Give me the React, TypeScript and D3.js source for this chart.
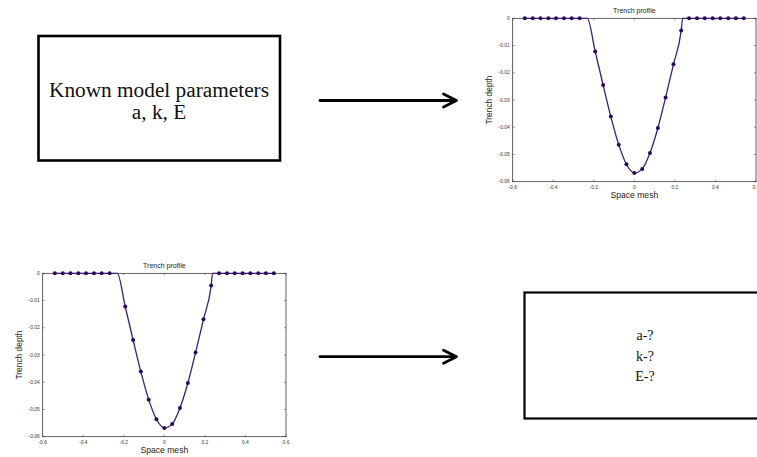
import React from "react";
import * as d3 from "d3";

const meshX = [
  -0.540, -0.501, -0.463, -0.424, -0.386, -0.347, -0.309, -0.270,
  -0.193, -0.154, -0.116, -0.077, -0.039, 0.000, 0.039, 0.077, 0.116,
  0.154, 0.193, 0.231, 0.270, 0.309, 0.347, 0.386, 0.424, 0.463, 0.501, 0.540,
];
const depthY = [
  0, 0, 0, 0, 0, 0, 0, 0,
  -0.0122, -0.0245, -0.0361, -0.0464, -0.0536, -0.0568, -0.0553, -0.0495, -0.0403,
  -0.0291, -0.0169, -0.0045, 0, 0, 0, 0, 0, 0, 0, 0,
];
// Continuous profile curve (includes the points where it meets the surface)
const curveX = [
  -0.540, -0.270, -0.232, -0.193, -0.154, -0.116, -0.077, -0.039, 0.000, 0.039,
  0.077, 0.116, 0.154, 0.193, 0.231, 0.238, 0.270, 0.540,
];
const curveY = [
  0, 0, 0, -0.0122, -0.0245, -0.0361, -0.0464, -0.0536, -0.0568, -0.0553,
  -0.0495, -0.0403, -0.0291, -0.0169, -0.0045, 0, 0, 0,
];
const xTicks = [-0.6, -0.4, -0.2, 0, 0.2, 0.4, 0.6];
const xTickLabels = ["-0.6", "-0.4", "-0.2", "0", "0.2", "0.4", "0.6"];
const yTicks = [0, -0.01, -0.02, -0.03, -0.04, -0.05, -0.06];
const yTickLabels = ["0", "-0.01", "-0.02", "-0.03", "-0.04", "-0.05", "-0.06"];

const chartTitle = "Trench profile";
const xLabel = "Space mesh";
const yLabel = "Trench depth";
const knownText = ["Known model parameters", "a, k, E"];
const unknownText = ["a-?", "k-?", "E-?"];

const LINE = "#3c1f72";
const DOT = "#2a0a5c";
const SANS = "'Liberation Sans', Arial, sans-serif";
const SERIF = "'Liberation Serif', 'DejaVu Serif', serif";

function Chart({ left, top }: { left: number; top: number }) {
  const w = 243.3;
  const h = 163.4;
  const x = d3.scaleLinear().domain([-0.6, 0.6]).range([left, left + w]);
  const y = d3.scaleLinear().domain([0, -0.06]).range([top, top + h]);
  const pts: [number, number][] = curveX.map((v, i) => [v, curveY[i]]);
  const line = d3
    .line<[number, number]>()
    .x((d) => x(d[0]))
    .y((d) => y(d[1]))
    .curve(d3.curveMonotoneX);
  const tl = 2;
  return (
    <g>
      <text x={left + w / 2} y={top - 5.5} textAnchor="middle" fontFamily={SANS} fontSize={7} fill="#222">
        {chartTitle}
      </text>
      {xTicks.map((t, i) => (
        <g key={"x" + i}>
          <line x1={x(t)} x2={x(t)} y1={top + h} y2={top + h - tl} stroke="#333" strokeWidth={0.5} />
          <line x1={x(t)} x2={x(t)} y1={top} y2={top + tl} stroke="#333" strokeWidth={0.5} />
          <text x={x(t)} y={top + h + 7.4} textAnchor="middle" fontFamily={SANS} fontSize={4.9} fill="#333">
            {xTickLabels[i]}
          </text>
        </g>
      ))}
      {yTicks.map((t, i) => (
        <g key={"y" + i}>
          <line x1={left} x2={left + tl} y1={y(t)} y2={y(t)} stroke="#333" strokeWidth={0.5} />
          <line x1={left + w} x2={left + w - tl} y1={y(t)} y2={y(t)} stroke="#333" strokeWidth={0.5} />
          <text x={left - 3} y={y(t) + 1.7} textAnchor="end" fontFamily={SANS} fontSize={4.9} fill="#333">
            {yTickLabels[i]}
          </text>
        </g>
      ))}
      <rect x={left} y={top} width={w} height={h} fill="none" stroke="#222" strokeWidth={0.7} />
      <path d={line(pts) || ""} fill="none" stroke={LINE} strokeWidth={1.3} />
      {meshX.map((v, i) => (
        <circle key={"p" + i} cx={x(v)} cy={y(depthY[i])} r={2} fill={DOT} />
      ))}
      <text x={left + w / 2} y={top + h + 16.6} textAnchor="middle" fontFamily={SANS} fontSize={8.6} fill="#222">
        {xLabel}
      </text>
      <text
        transform={`translate(${left - 20.5},${top + h / 2}) rotate(-90)`}
        textAnchor="middle"
        fontFamily={SANS}
        fontSize={8.4}
        fill="#222"
      >
        {yLabel}
      </text>
    </g>
  );
}

function Arrow({ x1, x2, yy }: { x1: number; x2: number; yy: number }) {
  return (
    <g stroke="#000" strokeWidth={2.8} fill="none" strokeLinecap="round" strokeLinejoin="round">
      <line x1={x1} x2={x2 - 1} y1={yy} y2={yy} />
      <polyline points={`${x2 - 13},${yy - 6.5} ${x2},${yy} ${x2 - 13},${yy + 6.5}`} />
    </g>
  );
}

export default function App() {
  return (
    <svg
      width={757}
      height={457}
      style={{ position: "absolute", left: 0, top: 0, background: "#fff" }}
    >
      <rect x={0} y={0} width={757} height={457} fill="#fff" />
      <rect x={38.5} y={36} width={241.5} height={124.5} fill="none" stroke="#000" strokeWidth={2.6} />
      <text x={159} y={96.8} textAnchor="middle" fontFamily={SERIF} fontSize={21.3} fill="#111">
        {knownText[0]}
      </text>
      <text x={159} y={118.5} textAnchor="middle" fontFamily={SERIF} fontSize={21.3} fill="#111">
        {knownText[1]}
      </text>
      <Arrow x1={320} x2={456.5} yy={100.5} />
      <Chart left={512.7} top={18.3} />
      <Chart left={42.7} top={273.3} />
      <Arrow x1={320} x2={456.5} yy={356.7} />
      <rect x={524.5} y={292.5} width={240} height={126} fill="none" stroke="#000" strokeWidth={2.2} />
      {unknownText.map((t, i) => (
        <text key={i} x={645} y={340.3 + i * 20.4} textAnchor="middle" fontFamily={SERIF} fontSize={14} fill="#111">
          {t}
        </text>
      ))}
    </svg>
  );
}
